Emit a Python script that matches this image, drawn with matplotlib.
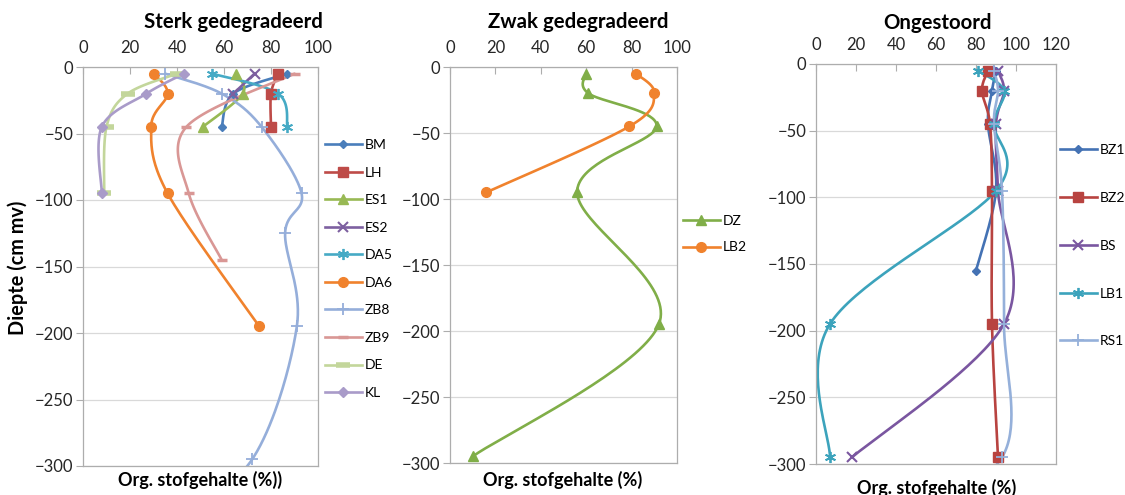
import numpy as np
import matplotlib
matplotlib.use('Agg')
import matplotlib.pyplot as plt
from matplotlib.lines import Line2D

plt.rcParams['font.family'] = ['Lato', 'DejaVu Sans']

# --- Sterk gedegradeerd ---
bm_d = [-5, -20, -45]
bm_v = [87, 64, 59]
lh_d = [-5, -20, -45]
lh_v = [83, 80, 80]
es1_d = [-5, -20, -45]
es1_v = [65, 68, 51]
es2_d = [-5, -20]
es2_v = [73, 64]
da5_d = [-5, -20, -45]
da5_v = [55, 83, 87]
da6_d = [-5, -20, -45, -95, -195]
da6_v = [30, 36, 29, 36, 75]
zb8_d = [-5, -20, -45, -95, -125, -195, -295, -345]
zb8_v = [35, 59, 76, 93, 86, 91, 72, 35]
zb9_d = [-5, -45, -95, -145]
zb9_v = [90, 44, 45, 59]
de_d = [-5, -20, -45, -95]
de_v = [40, 19, 10, 9]
kl_d = [-5, -20, -45, -95]
kl_v = [43, 27, 8, 8]

# --- Zwak gedegradeerd ---
dz_d = [-5, -20, -45, -95, -195, -295]
dz_v = [60, 61, 91, 56, 92, 10]
lb2_d = [-5, -20, -45, -95]
lb2_v = [82, 90, 79, 16]

# --- Ongestoord ---
bz1_d = [-5, -20, -45, -95, -155]
bz1_v = [90, 88, 86, 90, 80]
bz2_d = [-5, -20, -45, -95, -195, -295]
bz2_v = [86, 83, 87, 88, 88, 91]
bs_d = [-5, -20, -45, -95, -195, -295]
bs_v = [91, 94, 90, 91, 94, 18]
lb1_d = [-5, -20, -45, -95, -195, -295]
lb1_v = [81, 94, 89, 90, 7, 7]
rs1_d = [-5, -20, -45, -95, -195, -295, -345]
rs1_v = [89, 91, 89, 93, 94, 93, 34]

ASTER = (6, 2, 0)

panel1 = [
    ('BM', bm_v, bm_d, '#4A7EBB', 'D', 4.5, 1.0),
    ('LH', lh_v, lh_d, '#BE4B48', 's', 6.5, 1.0),
    ('ES1', es1_v, es1_d, '#98B954', '^', 7.5, 1.0),
    ('ES2', es2_v, es2_d, '#7D60A0', 'x', 7, 1.5),
    ('DA5', da5_v, da5_d, '#46AAC5', ASTER, 8, 1.3),
    ('DA6', da6_v, da6_d, '#F0822D', 'o', 7, 1.0),
    ('ZB8', zb8_v, zb8_d, '#95AEDA', '+', 8, 1.3),
    ('ZB9', zb9_v, zb9_d, '#D99795', '_', 7, 2.5),
    ('DE', de_v, de_d, '#C3D69B', '_', 10, 4),
    ('KL', kl_v, kl_d, '#A99BC9', 'D', 5.5, 1.0),
]
panel2 = [
    ('DZ', dz_v, dz_d, '#80AE48', '^', 7.5, 1.0),
    ('LB2', lb2_v, lb2_d, '#F0822D', 'o', 7, 1.0),
]
panel3 = [
    ('BZ1', bz1_v, bz1_d, '#4472B4', 'D', 4.5, 1.0),
    ('BZ2', bz2_v, bz2_d, '#B84340', 's', 7, 1.0),
    ('BS', bs_v, bs_d, '#7A56A0', 'x', 7, 1.5),
    ('LB1', lb1_v, lb1_d, '#3CA3BC', ASTER, 8, 1.3),
    ('RS1', rs1_v, rs1_d, '#95B0DA', '+', 8, 1.3),
]


def smooth(v, d, sx, sy, n=40):
    P = np.column_stack([np.array(v, float) * sx, np.array(d, float) * sy])
    if len(P) < 3:
        return np.array(v), np.array(d)
    E = np.vstack([P[0], P, P[-1]])
    out = []
    t = np.linspace(0, 1, n)[:, None]
    for i in range(len(P) - 1):
        p0, p1, p2, p3 = E[i], E[i + 1], E[i + 2], E[i + 3]
        c1 = p1 + (p2 - p0) / 6
        c2 = p2 - (p3 - p1) / 6
        seg = (1 - t)**3 * p1 + 3 * (1 - t)**2 * t * c1 + 3 * (1 - t) * t**2 * c2 + t**3 * p2
        out.append(seg if i == 0 else seg[1:])
    out = np.vstack(out)
    return out[:, 0] / sx, out[:, 1] / sy


W, H = 1125, 495
fig = plt.figure(figsize=(W / 100, H / 100), dpi=100)

boxes = [(83, 67, 318, 466), (450, 67, 677, 463), (816, 64, 1056, 464)]
xmaxes = [100, 100, 120]
titles = ['Sterk gedegradeerd', 'Zwak gedegradeerd', 'Ongestoord']
title_x = [233, 578, 937]
title_y = [22, 22, 23]
xlabels = ['Org. stofgehalte (%))', 'Org. stofgehalte (%)', 'Org. stofgehalte (%)']
xlab_x = [200, 563, 937]
xlab_y = [480, 480, 488]
panels = [panel1, panel2, panel3]
leg_pos = [(325, 139), (683, 215), (1060, 144)]
leg_space = [1.12, 1.04, 2.58]

gray = '#ADADAD'
for k in range(3):
    l, t, r, b = boxes[k]
    ax = fig.add_axes([l / W, 1 - b / H, (r - l) / W, (b - t) / H])
    ax.set_xlim(0, xmaxes[k])
    ax.set_ylim(-300, 0)
    sx = (r - l) / xmaxes[k]
    sy = (b - t) / 300
    handles = []
    for name, v, d, c, m, ms, mew in panels[k]:
        xs, ys = smooth(v, d, sx, sy)
        ax.plot(xs, ys, color=c, lw=1.9, solid_capstyle='round', zorder=2)
        ax.plot(v, d, linestyle='none', marker=m, ms=ms, mew=mew,
                color=c, mec=c, zorder=3)
        handles.append(Line2D([], [], color=c, lw=1.9, marker=m, ms=ms, mew=mew, mec=c))
    ax.xaxis.tick_top()
    ax.set_xticks(np.arange(0, xmaxes[k] + 1, 20))
    ax.set_yticks(np.arange(-300, 1, 50))
    ax.tick_params(axis='x', direction='in', length=5, color=gray, pad=8,
                   labelsize=12, labelcolor='#262626')
    ax.tick_params(axis='y', direction='out', length=5, color=gray, pad=2,
                   labelsize=12, labelcolor='#262626')
    ax.yaxis.grid(True, color='#D9D9D9', lw=0.9)
    ax.set_axisbelow(True)
    for s in ax.spines.values():
        s.set_color(gray)
        s.set_linewidth(0.9)
    fig.text(title_x[k] / W, 1 - title_y[k] / H, titles[k], ha='center', va='center',
             fontsize=14.7, fontweight='bold')
    fig.text(xlab_x[k] / W, 1 - xlab_y[k] / H, xlabels[k], ha='center', va='center',
             fontsize=13, fontweight='bold')
    lx, ly = leg_pos[k]
    fig.legend(handles=handles, labels=[p[0] for p in panels[k]],
               loc='upper left', bbox_to_anchor=(lx / W, 1 - ly / H),
               frameon=False, fontsize=10, handlelength=2.66, handletextpad=0.2,
               labelspacing=leg_space[k], borderpad=0, borderaxespad=0)

fig.text(18 / W, 1 - 268 / H, 'Diepte (cm mv)', rotation=90, ha='center',
         va='center', fontsize=14.3, fontweight='bold')

fig.savefig('out.png', dpi=100)
